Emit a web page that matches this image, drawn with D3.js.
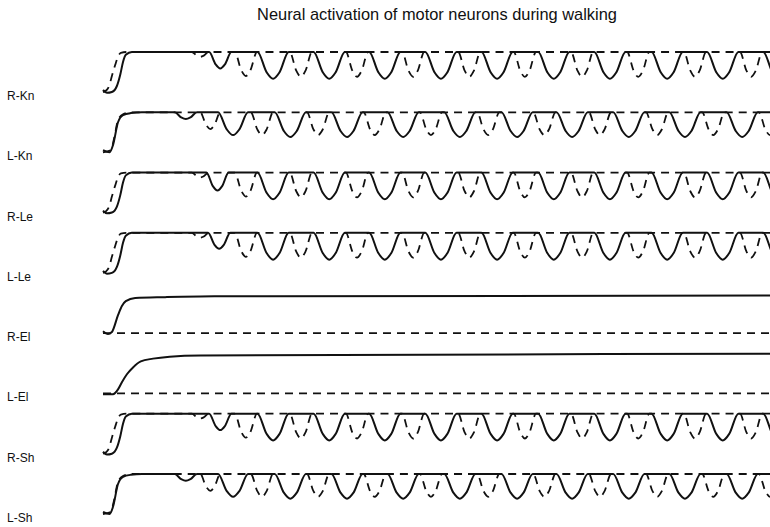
<!DOCTYPE html>
<html lang="en">
<head>
    <meta charset="UTF-8">
    <title>Neural activation of motor neurons during walking</title>
    <script src="https://cdn.jsdelivr.net/npm/d3@7"></script>
    <style>
        body{
            margin: 0;
            background: #fff;
        }
        #svg_main{
            width: 770px;
            height: 527px;
            display: block;
        }
        .title{
            font-family: "Liberation Sans", Arial, sans-serif;
            font-size: 16.4px;
            fill: #111;
        }
        .label{
            font-family: "Liberation Sans", Arial, sans-serif;
            font-size: 12px;
            fill: #111;
        }
        .solid{
            fill: none;
            stroke: #111;
            stroke-width: 2px;
        }
        .dashed{
            fill: none;
            stroke: #111;
            stroke-width: 1.8px;
            stroke-dasharray: 8,6;
        }
    </style>
</head>
<body>
<svg id="svg_main"></svg>
<script>
    // picture size
    const width = 770;
    const height = 527;

    // muscles, one row each
    const rows = ['R-Kn','L-Kn','R-Le','L-Le','R-El','L-El','R-Sh','L-Sh'];

    // rise at the start of the run: [time, activation]
    const rStartSolid = [[0,0.05],[0.07,-0.02],[0.16,0],[0.25,0.15],[0.31,0.43],[0.36,0.75],[0.41,0.93],[0.52,1]];
    const rStartDashed = [[0,0],[0.05,0.03],[0.11,0.15],[0.16,0.4],[0.22,0.68],[0.27,0.88],[0.32,0.98],[0.43,1]];
    const lStartSolid = [[0,0.05],[0.12,0],[0.18,0.18],[0.27,0.75],[0.36,0.93],[0.5,0.98],[0.7,1]];
    const lStartDashed = [[0,0],[0.14,0.05],[0.2,0.35],[0.27,0.8],[0.36,0.95],[0.5,1]];

    // dips during walking: [time of dip, lowest activation, half width]
    const rKnSolid = [[2.11,0.59,0.2],[3.06,0.33,0.28],[4.07,0.33,0.28],[5.07,0.33,0.28],[6.08,0.33,0.28],[7.09,0.33,0.28],[8.11,0.33,0.28],[9.12,0.33,0.28],[10.15,0.33,0.28],[11.15,0.33,0.28],[12.16,0.33,0.28]];
    const rKnDashed = [[1.75,0.88,0.15],[2.57,0.4,0.2],[3.56,0.38,0.2],[4.57,0.38,0.2],[5.58,0.38,0.2],[6.59,0.38,0.2],[7.59,0.38,0.2],[8.62,0.38,0.2],[9.63,0.38,0.2],[10.65,0.38,0.2],[11.66,0.38,0.2]];
    const lKnSolid = [[1.49,0.83,0.2],[2.34,0.43,0.27],[3.37,0.38,0.28],[4.39,0.38,0.28],[5.40,0.38,0.28],[6.42,0.38,0.28],[7.45,0.38,0.28],[8.44,0.38,0.28],[9.46,0.38,0.28],[10.47,0.38,0.28],[11.50,0.38,0.28],[12.52,0.38,0.28]];
    const lKnDashed = [[1.93,0.58,0.18],[2.86,0.43,0.2],[3.87,0.43,0.2],[4.89,0.43,0.2],[5.90,0.43,0.2],[6.93,0.43,0.2],[7.94,0.43,0.2],[8.94,0.43,0.2],[9.97,0.43,0.2],[10.98,0.43,0.2],[12.0,0.43,0.2]];
    const rLeSolid = [[2.06,0.55,0.2],[3.06,0.33,0.28],[4.07,0.33,0.28],[5.07,0.33,0.28],[6.08,0.33,0.28],[7.09,0.33,0.28],[8.11,0.33,0.28],[9.12,0.33,0.28],[10.15,0.33,0.28],[11.15,0.33,0.28],[12.16,0.33,0.28]];
    const lLeSolid = [[2.09,0.6,0.2],[3.06,0.33,0.28],[4.07,0.33,0.28],[5.07,0.33,0.28],[6.08,0.33,0.28],[7.09,0.33,0.28],[8.11,0.33,0.28],[9.12,0.33,0.28],[10.15,0.33,0.28],[11.15,0.33,0.28],[12.16,0.33,0.28]];

    // elbows: no stepping, one slow rise
    const rElSolid = [[0,0.05],[0.09,-0.02],[0.16,0.03],[0.27,0.45],[0.34,0.68],[0.41,0.8],[0.58,0.88],[1.12,0.9],[2.0,0.92],[12,0.94]];
    const lElSolid = [[0,-0.02],[0.18,-0.02],[0.27,0.1],[0.34,0.28],[0.43,0.48],[0.54,0.65],[0.68,0.8],[0.9,0.87],[1.2,0.92],[1.75,0.95],[12,0.99]];
    const elDashed = [[0,0],[12,0]];

    // a dip is drawn as a rounded trough between two points on the plateau
    function walking(start, dips){
        let pts = start.slice();
        dips.forEach(function(d){
            let t = d[0], low = d[1], w = d[2];
            let side = low + 0.25*(1-low);
            pts.push([t-w,1],[t-0.42*w,side],[t,low],[t+0.42*w,side],[t+w,1]);
        });
        pts.push([13,1]);
        return pts;
    }

    const traces = [
        {row:'R-Kn', solid: walking(rStartSolid,rKnSolid), dashed: walking(rStartDashed,rKnDashed)},
        {row:'L-Kn', solid: walking(lStartSolid,lKnSolid), dashed: walking(lStartDashed,lKnDashed)},
        {row:'R-Le', solid: walking(rStartSolid,rLeSolid), dashed: walking(rStartDashed,rKnDashed)},
        {row:'L-Le', solid: walking(rStartSolid,lLeSolid), dashed: walking(rStartDashed,rKnDashed)},
        {row:'R-El', solid: rElSolid, dashed: elDashed},
        {row:'L-El', solid: lElSolid, dashed: elDashed},
        {row:'R-Sh', solid: walking(rStartSolid,rKnSolid), dashed: walking(rStartDashed,rKnDashed)},
        {row:'L-Sh', solid: walking(lStartSolid,lKnSolid), dashed: walking(lStartDashed,lKnDashed)}
    ];

    let svg = d3.select('#svg_main').attr('viewBox',[0,0,width,height]);

    svg.append('defs').append('clipPath').attr('id','plot_clip')
        .append('rect').attr('x',95).attr('y',30).attr('width',675).attr('height',497);

    // time axis and row positions
    let xScale = d3.scaleLinear().domain([0,12]).range([103,770]);
    let rowScale = d3.scalePoint().domain(rows).range([92,514]);
    const rowHeight = 40;

    svg.append('text')
        .attr('class','title')
        .attr('x',437)
        .attr('y',20)
        .attr('text-anchor','middle')
        .text('Neural activation of motor neurons during walking');

    svg.append('g').selectAll('text')
        .data(rows)
        .enter()
        .append('text')
        .attr('class','label')
        .attr('x',7)
        .attr('y',d=>rowScale(d)+8)
        .text(d=>d);

    let plot = svg.append('g').attr('clip-path','url(#plot_clip)');

    let rowGroups = plot.selectAll('.row')
        .data(traces)
        .enter()
        .append('g')
        .attr('class','row');

    rowGroups.each(function(d){
        let base = rowScale(d.row);
        let yScale = d3.scaleLinear().domain([0,1]).range([base,base-rowHeight]);
        let line = d3.line()
            .x(p=>xScale(p[0]))
            .y(p=>yScale(p[1]))
            .curve(d3.curveMonotoneX);
        let g = d3.select(this);
        g.append('path').attr('class','dashed').attr('d',line(d.dashed));
        g.append('path').attr('class','solid').attr('d',line(d.solid));
    });
</script>
</body>
</html>
